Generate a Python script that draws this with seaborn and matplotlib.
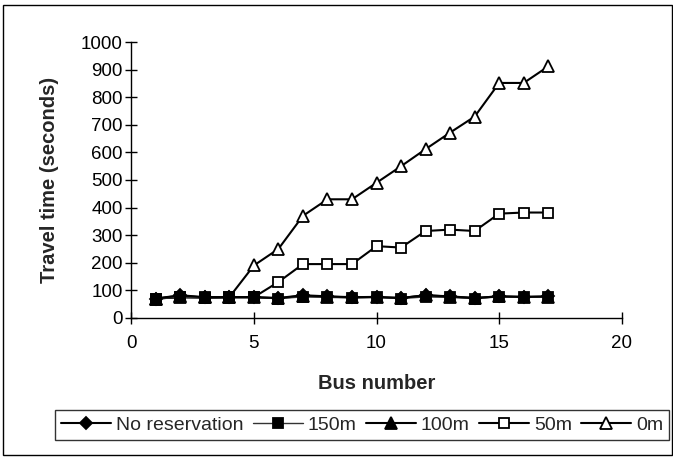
import matplotlib
matplotlib.use("Agg")
import matplotlib.pyplot as plt
import seaborn as sns
import pandas as pd
from matplotlib.patches import Rectangle

bus = list(range(1, 18))
no_reservation = [70, 82, 75, 75, 75, 72, 82, 78, 75, 76, 72, 82, 78, 72, 78, 76, 78]
m150 = [70, 74, 73, 74, 74, 70, 76, 74, 73, 75, 70, 76, 74, 70, 76, 75, 76]
m100 = [70, 80, 74, 75, 75, 71, 80, 77, 74, 75, 72, 82, 77, 72, 78, 76, 77]
m50 = [70, 75, 74, 75, 75, 130, 195, 195, 195, 260, 255, 315, 320, 315, 378, 382, 382]
m0 = [70, 75, 74, 75, 190, 250, 370, 430, 430, 490, 550, 612, 672, 730, 852, 852, 912]
series_names = ["No reservation", "150m", "100m", "50m", "0m"]

sns.set_theme(style="white")
plt.rcParams['font.family'] = ['Liberation Sans', 'DejaVu Sans']

fig = plt.figure(figsize=(6.73, 4.58), dpi=100)
ax = fig.add_axes([0.195, 0.306, 0.729, 0.602])

styles = [
    dict(marker="D", mfc="black", ms=6.5, lw=1.5, color="black", z=6),
    dict(marker="s", mfc="black", ms=7, lw=1.0, color="#333333", z=5),
    dict(marker="^", mfc="black", ms=8, lw=1.5, color="black", z=4),
    dict(marker="s", mfc="white", ms=7, lw=1.5, color="black", z=3),
    dict(marker="^", mfc="white", ms=8.5, lw=1.5, color="black", z=2),
]
data = [no_reservation, m150, m100, m50, m0]
for name, vals, st in zip(series_names, data, styles):
    df = pd.DataFrame({"Bus number": bus, "Travel time": vals})
    sns.lineplot(data=df, x="Bus number", y="Travel time", ax=ax, label=name,
                 marker=st["marker"], markerfacecolor=st["mfc"], markeredgecolor="black",
                 markeredgewidth=1.3, markersize=st["ms"], linewidth=st["lw"],
                 color=st["color"], zorder=st["z"])

ax.set_xlim(0, 20)
ax.set_ylim(0, 1000)
ax.set_xticks([0, 5, 10, 15, 20])
ax.set_yticks(range(0, 1001, 100))
for s in ["top", "right"]:
    ax.spines[s].set_visible(False)
for s in ["left", "bottom"]:
    ax.spines[s].set_color("black")
    ax.spines[s].set_linewidth(1.0)
ax.tick_params(axis="both", direction="inout", length=8, width=1, color="black",
               labelsize=13.5, labelcolor="black", left=True, bottom=True)
ax.tick_params(axis="x", pad=8)
ax.tick_params(axis="y", pad=2)
ax.set_xlabel("Bus number", fontsize=14.5, fontweight="bold", labelpad=16)
ax.set_ylabel("Travel time (seconds)", fontsize=14.5, fontweight="bold", labelpad=16)

leg = ax.legend(loc="center", bbox_to_anchor=(0.538, 0.072), bbox_transform=fig.transFigure,
                ncol=5, frameon=True, fancybox=False, edgecolor="black", fontsize=14,
                handlelength=2.6, handletextpad=0.25, columnspacing=0.45, borderpad=0.3,
                borderaxespad=0)
leg.get_frame().set_linewidth(1.0)

fig.patches.append(Rectangle((0.005, 0.006), 0.993, 0.984, transform=fig.transFigure,
                             fill=False, edgecolor="black", linewidth=1.0))

fig.savefig("out.png", dpi=100)
